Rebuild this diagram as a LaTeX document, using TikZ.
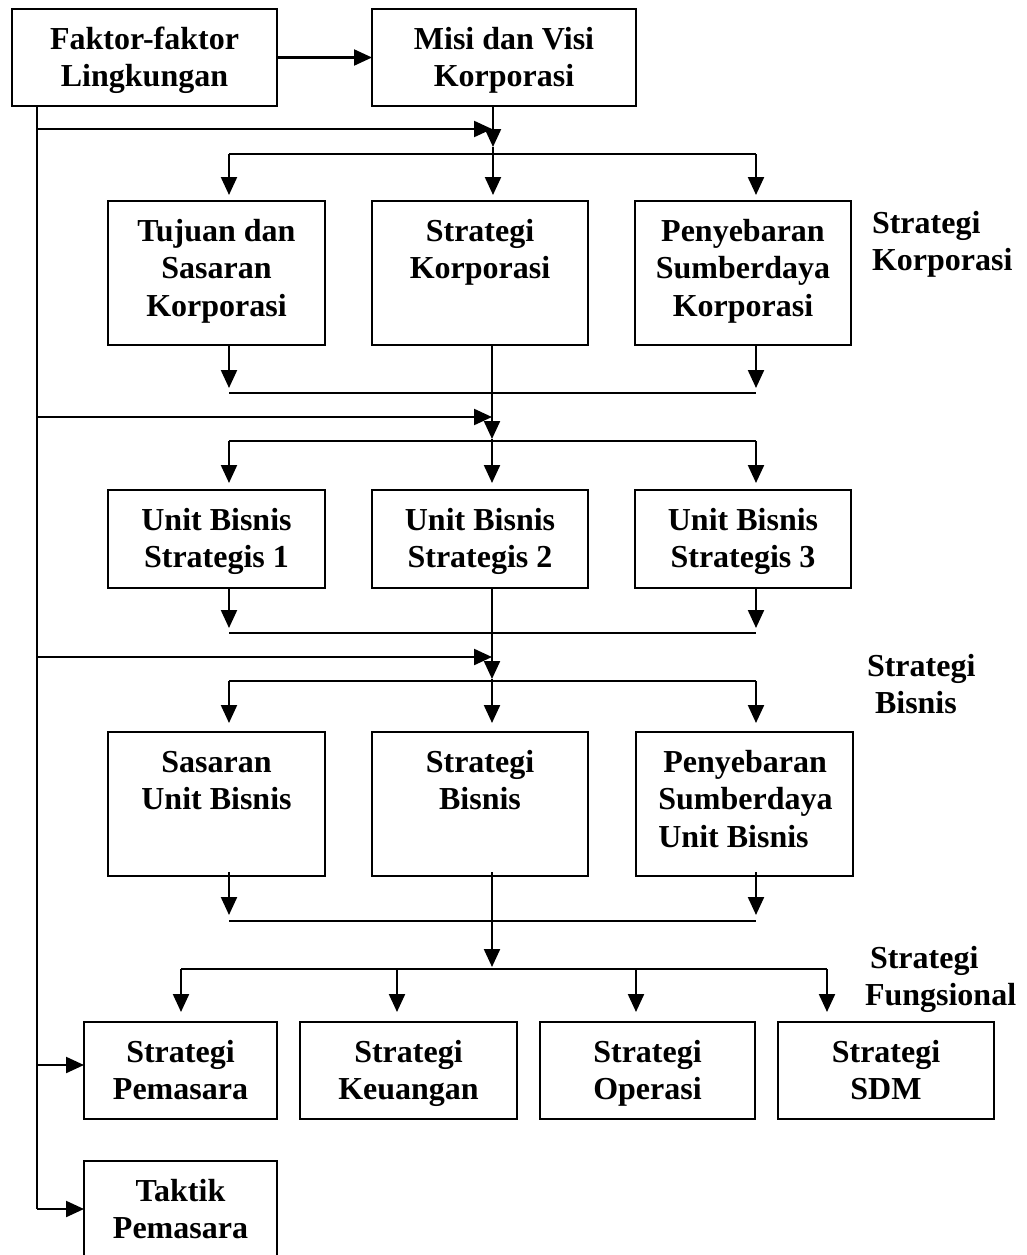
\documentclass[tikz,border=0pt]{standalone}
\usepackage{fontspec}
\setmainfont{Liberation Serif}
\usetikzlibrary{arrows.meta}
\newcommand\fl{\rule{0pt}{30pt}}
\tikzset{
  boxst/.style={draw, line width=2.2pt, inner sep=0pt, outer sep=0pt, anchor=north west},
  txt/.style={inner sep=0pt, outer sep=0pt, align=center, font=\fontsize{32}{37.5}\selectfont\bfseries},
  lbl/.style={inner sep=0pt, outer sep=0pt, align=left, anchor=north west, font=\fontsize{32}{37.5}\selectfont\bfseries},
  ln/.style={line width=2.2pt},
  arr/.style={line width=2.2pt, -{Triangle[length=18pt,width=16pt]}}
}
% name, x1, y1, x2, y2, text
\newcommand\bx[6]{%
  \node[boxst, minimum width={(#4-#2)*1pt}, minimum height={(#5-#3)*1pt}] (#1) at (#2,#3) {};
  \node[txt, anchor=north] (#1t) at ([yshift=-10pt]#1.north) {\fl #6};
}
\begin{document}
\begin{tikzpicture}[x=1pt,y=-1pt]
\clip (0,0) rectangle (1026,1255);
\useasboundingbox (0,0) rectangle (1026,1255);
\fill[white] (0,0) rectangle (1026,1255);

% boxes
\bx{F}{12}{9}{277}{106}{Faktor-faktor\\Lingkungan}
\bx{M}{372}{9}{636}{106}{Misi dan Visi\\Korporasi}
\bx{A1}{108}{201}{325}{345}{Tujuan dan\\Sasaran\\Korporasi}
\bx{A2}{372}{201}{588}{345}{Strategi\\Korporasi}
\bx{A3}{635}{201}{851}{345}{Penyebaran\\Sumberdaya\\Korporasi}
\bx{B1}{108}{490}{325}{588}{Unit Bisnis\\Strategis 1}
\bx{B2}{372}{490}{588}{588}{Unit Bisnis\\Strategis 2}
\bx{B3}{635}{490}{851}{588}{Unit Bisnis\\Strategis 3}
\bx{C1}{108}{732}{325}{876}{Sasaran\\Unit Bisnis}
\bx{C2}{372}{732}{588}{876}{Strategi\\Bisnis}
\node[boxst, minimum width=217pt, minimum height=144pt] (C3) at (636,732) {};
\node[txt, align=left, anchor=north] (C3t) at ([yshift=-10pt,xshift=1pt]C3.north) {\fl\hspace*{5pt}Penyebaran\\Sumberdaya\\Unit Bisnis};
\bx{D1}{84}{1022}{277}{1119}{Strategi\\Pemasara}
\bx{D2}{300}{1022}{517}{1119}{Strategi\\Keuangan}
\bx{D3}{540}{1022}{755}{1119}{Strategi\\Operasi}
\bx{D4}{778}{1022}{994}{1119}{Strategi\\SDM}
\bx{T}{84}{1161}{277}{1275}{Taktik\\Pemasara}

% side labels
\node[lbl] (lk) at (872,203) {\fl Strategi\\Korporasi};
\node[lbl] (lb) at (867,646) {\fl Strategi\\\hspace*{8pt}Bisnis};
\node[lbl] (lf) at (865,938) {\fl\hspace*{5pt}Strategi\\Fungsional};

% top arrow
\draw[arr] (F) -- (M);

% left spine
\coordinate (s0) at (37,106);
\coordinate (s1) at (37,129);
\coordinate (s2) at (37,417);
\coordinate (s3) at (37,657);
\coordinate (s4) at (37,1065);
\coordinate (s5) at (37,1209);
\draw[ln] (s0) -- (s5);
\coordinate (j1) at (492,129);
\coordinate (j2) at (492,417);
\coordinate (j3) at (492,657);
\draw[arr] (s1) -- (j1);
\draw[arr] (s2) -- (j2);
\draw[arr] (s3) -- (j3);
\draw[arr] (s4) -- (s4 -| D1.west);
\draw[arr] (s5) -- (s5 -| T.west);

% section 1
\coordinate (m0) at (493,106);
\coordinate (m1) at (493,147);
\draw[arr] (m0) -- (m1);
\coordinate (d1l) at (229,154);
\coordinate (d1c) at (493,154);
\coordinate (d1r) at (756,154);
\draw[ln] (d1l) -- (d1r);
\draw[arr] (d1l) -- (229,195);
\draw[arr] (m1) -- (493,195);
\draw[arr] (d1r) -- (756,195);

% section 2
\draw[arr] (229,345) -- (229,388);
\draw[arr] (756,345) -- (756,388);
\coordinate (k1l) at (229,393);
\coordinate (k1r) at (756,393);
\draw[ln] (k1l) -- (k1r);
\coordinate (a2b) at (492,345);
\coordinate (a2e) at (492,439);
\draw[arr] (a2b) -- (a2e);
\coordinate (d2l) at (229,441);
\coordinate (d2r) at (756,441);
\draw[ln] (d2l) -- (d2r);
\draw[arr] (d2l) -- (229,483);
\draw[arr] (a2e) -- (492,483);
\draw[arr] (d2r) -- (756,483);

% section 3
\draw[arr] (229,588) -- (229,628);
\draw[arr] (756,588) -- (756,628);
\coordinate (k2l) at (229,633);
\coordinate (k2r) at (756,633);
\draw[ln] (k2l) -- (k2r);
\coordinate (b2b) at (492,588);
\coordinate (b2e) at (492,679);
\draw[arr] (b2b) -- (b2e);
\coordinate (d3l) at (229,681);
\coordinate (d3r) at (756,681);
\draw[ln] (d3l) -- (d3r);
\draw[arr] (d3l) -- (229,723);
\draw[arr] (b2e) -- (492,723);
\draw[arr] (d3r) -- (756,723);

% section 4
\draw[arr] (229,872) -- (229,915);
\draw[arr] (756,872) -- (756,915);
\coordinate (k3l) at (229,921);
\coordinate (k3r) at (756,921);
\draw[ln] (k3l) -- (k3r);
\coordinate (c2b) at (492,872);
\coordinate (c2e) at (492,967);
\draw[arr] (c2b) -- (c2e);
\coordinate (d4a) at (181,969);
\coordinate (d4b) at (397,969);
\coordinate (d4c) at (636,969);
\coordinate (d4d) at (827,969);
\draw[ln] (d4a) -- (d4d);
\draw[arr] (d4a) -- (181,1012);
\draw[arr] (d4b) -- (397,1012);
\draw[arr] (d4c) -- (636,1012);
\draw[arr] (d4d) -- (827,1012);
\end{tikzpicture}
\end{document}
